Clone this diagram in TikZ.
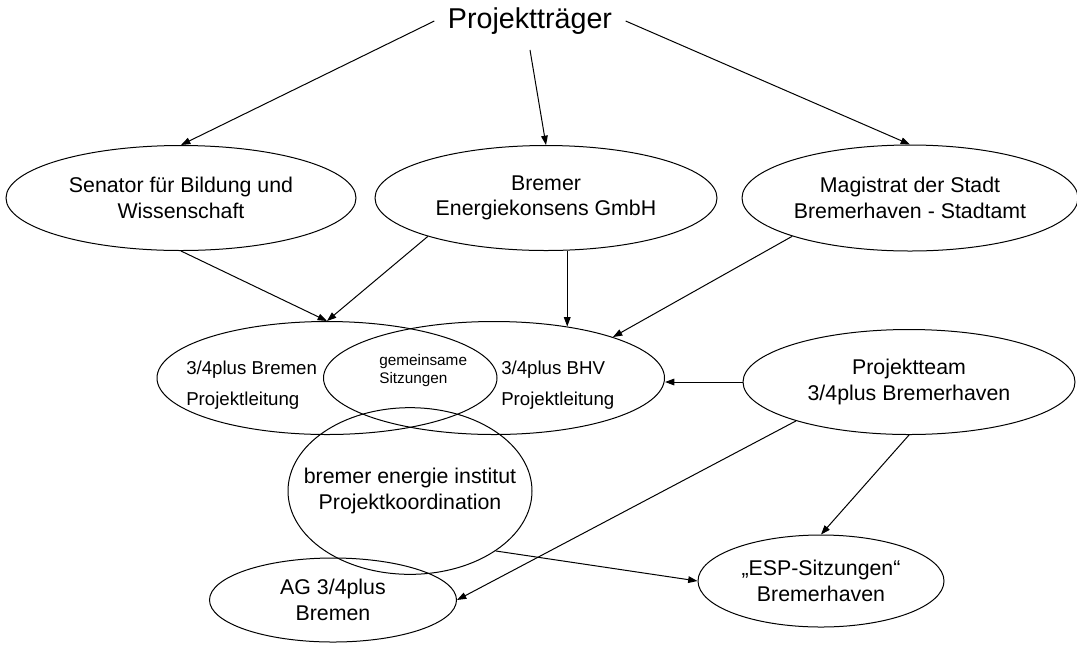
\documentclass[tikz,border=0pt]{standalone}
\usepackage{fontspec}
\setmainfont{Liberation Sans}
\usetikzlibrary{shapes.geometric,arrows.meta}

\begin{document}
\begin{tikzpicture}[
  x=0.75pt,y=-0.75pt,
  oval/.style={draw, ellipse, inner sep=0pt, line width=0.75pt, align=center, font=\fontsize{16}{19}\selectfont},
  txt/.style={inner sep=0pt, align=left, anchor=west, font=\fontsize{14}{23}\selectfont},
  arrow/.style={-{Triangle[length=7pt,width=5pt]}, line width=0.75pt}
]
\useasboundingbox (0,0) rectangle (1077,644);
\node[inner xsep=10pt, inner ysep=11.5pt, font=\fontsize{21.5}{25}\selectfont] (pt) at (530,21) {Projektträger};
\node[oval, minimum width=262.5pt, minimum height=78.75pt] (sen) at (181,198) {Senator für Bildung und\\Wissenschaft};
\node[oval, minimum width=256.5pt, minimum height=78.75pt] (ekon) at (546,198) {Bremer\\Energiekonsens GmbH};
\node[oval, minimum width=252pt, minimum height=79.5pt] (mag) at (910,198) {Magistrat der Stadt\\Bremerhaven - Stadtamt};
\node[oval, minimum width=255pt, minimum height=84.75pt] (brem) at (327,378) {};
\node[oval, minimum width=255.75pt, minimum height=84.75pt] (bhv) at (494,378) {};
\node[txt] (bremtxt) at (186,385) {3/4plus Bremen\\Projektleitung};
\node[txt] (bhvtxt) at (501,385) {3/4plus BHV\\Projektleitung};
\node[txt, font=\fontsize{11.5}{13.5}\selectfont] (gemtxt) at (379,371) {gemeinsame\\Sitzungen};
\node[oval, minimum width=249pt, minimum height=78.75pt] (team) at (909,382) {Projektteam\\3/4plus Bremerhaven};
\node[oval, minimum width=183pt, minimum height=125pt] (bei) at (410,491) {};
\node[align=center, inner sep=0pt, font=\fontsize{16}{19}\selectfont] (beitxt) at (bei) {bremer energie institut\\Projektkoordination};
\node[oval, minimum width=185.25pt, minimum height=63pt] (ag) at (333,600) {AG 3/4plus\\Bremen};
\node[oval, minimum width=184.5pt, minimum height=69pt] (esp) at (821,581) {„ESP-Sitzungen“\\Bremerhaven};
% Traeger
\draw[arrow] (pt.west) -- (sen.north);
\draw[arrow] (pt.south) -- (ekon.north);
\draw[arrow] (pt.east) -- (mag.north);
% Projektleitung
\draw[arrow] (sen.south) -- (brem.north);
\draw[arrow] (ekon.-162) -- (brem.north);
\draw[arrow] (ekon.-68) -- (ekon.-68 |- bhv.35);
\draw[arrow] (mag.-162) -- (bhv.19);
\draw[arrow] (team.west) -- (team.west -| bhv.east);
% unten
\draw[arrow] (team.-161) -- (ag.east);
\draw[arrow] (team.south) -- (esp.north);
\draw[arrow] (bei.-35) -- (esp.west);
\end{tikzpicture}
\end{document}
